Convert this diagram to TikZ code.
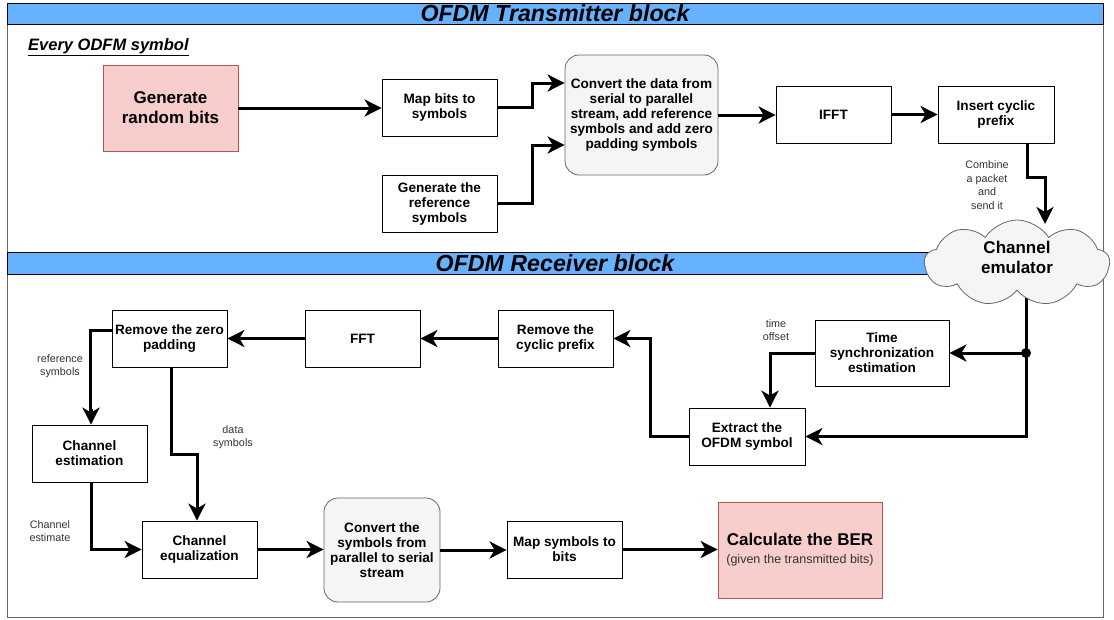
\documentclass[tikz,border=0pt]{standalone}
\usepackage{fontspec}
\setmainfont{Liberation Sans}
\usetikzlibrary{arrows.meta,shapes.symbols,calc}
\definecolor{pinkf}{HTML}{F8CECC}
\definecolor{pinkd}{HTML}{B85450}
\definecolor{grayf}{HTML}{F5F5F5}
\definecolor{grayd}{HTML}{666666}
\definecolor{barblue}{HTML}{66B2FF}
\definecolor{labtext}{HTML}{333333}
\begin{document}
\begin{tikzpicture}[x=1pt,y=-1pt,
  box/.style={draw=black, fill=white, line width=0.8pt, align=center,
    font=\fontsize{13.6}{15}\selectfont\bfseries, inner sep=1pt,
    minimum width=115pt, minimum height=57pt},
  softbox/.style={box, draw=grayd, fill=grayf, rounded corners=14pt},
  pinkbox/.style={box, draw=pinkd, fill=pinkf},
  arr/.style={line width=3pt, -{Stealth[length=17pt,width=17pt,inset=5pt]}},
  plain/.style={line width=3pt},
  lab/.style={font=\fontsize{10.8}{13.5}\selectfont, text=labtext, align=center},
  bartitle/.style={font=\fontsize{23.2}{25}\selectfont\bfseries\itshape}]
\useasboundingbox (0,0) rectangle (1114,619);
% frame and bars
\draw[grayd, line width=0.8pt] (7,3) rectangle (1103,617);
\draw[black, line width=0.8pt, fill=barblue] (7,3) rectangle (1103,24);
\draw[black, line width=0.8pt, fill=barblue] (7,252) rectangle (1103,274);
\node[bartitle] (t1) at (555,13.5) {OFDM Transmitter block};
\node[bartitle] (t2) at (555,263) {OFDM Receiver block};
\node[anchor=west, font=\fontsize{16.5}{18}\selectfont\bfseries\itshape, inner sep=0] (every) at (28,47) {\underline{Every ODFM symbol}};
% transmitter nodes
\node[pinkbox, minimum width=135pt, minimum height=86pt, font=\fontsize{17}{20}\selectfont\bfseries] (gen) at (170.5,108) {Generate\\random bits};
\node[box] (map) at (439.5,107.5) {Map bits to\\symbols};
\node[box] (genref) at (439.5,203.5) {Generate the\\reference\\symbols};
\node[softbox, minimum width=153pt, minimum height=120pt] (conv) at (641.5,115) {Convert the data from\\serial to parallel\\stream, add reference\\symbols and add zero\\padding symbols};
\node[box] (ifft) at (833.5,114.5) {IFFT};
\node[box, minimum width=116pt] (icp) at (996,114.5) {Insert cyclic\\prefix};
\node[lab] (comb) at (987,185) {Combine\\a packet\\and\\send it};
% receiver nodes
\node[box] (rzp) at (169.5,338.5) {Remove the zero\\padding};
\node[box] (fft) at (362.5,338.5) {FFT};
\node[box] (rcp) at (555.5,338.5) {Remove the\\cyclic prefix};
\node[box, minimum width=134pt, minimum height=66pt] (tsync) at (882,353) {Time\\synchronization\\estimation};
\node[box, minimum width=116pt] (ext) at (747,436.5) {Extract the\\OFDM symbol};
\node[box] (chest) at (89.5,453.5) {Channel\\estimation};
\node[box] (cheq) at (199.5,549.5) {Channel\\equalization};
\node[softbox, minimum width=116pt, minimum height=104pt] (conv2) at (382,550) {Convert the\\symbols from\\parallel to serial\\stream};
\node[box] (mapb) at (564.5,549.5) {Map symbols to\\bits};
\node[pinkbox, minimum width=164pt, minimum height=96pt, font=\fontsize{17}{20}\selectfont\bfseries] (ber) at (800,550) {Calculate the BER\\[-2pt]{\fontsize{12.5}{14}\selectfont\mdseries\color{labtext}(given the transmitted bits)}};
\node[circle, fill=black, inner sep=0, minimum size=10pt] (dot) at (1026,353) {};
\node[lab] (toff) at (776,330) {time\\offset};
\node[lab] (refs) at (60,366) {reference\\symbols};
\node[lab] (datas) at (233,437) {data\\symbols};
\node[lab] (chestl) at (50,531) {Channel\\estimate};
% connectors
\draw[plain] (dot.center) -- ++(0,-60);
\draw[arr] (gen.east) -- (gen.east -| map.west);
\draw[arr] (map.east) -- ++(35,0) |- ($(conv.west)+(0,-32)$);
\draw[arr] (genref.east) -- ++(35,0) |- ($(conv.west)+(0,30)$);
\draw[arr] (conv.east) -- (conv.east -| ifft.west);
\draw[arr] (ifft.east) -- (icp.west);
% cloud
\node[cloud, cloud puffs=9, cloud puff arc=115, cloud ignores aspect, draw=grayd, fill=grayf, line width=0.8pt,
  minimum width=185pt, minimum height=86pt, inner sep=0] (cloud) at (1017,263) {};
\node[align=center, font=\fontsize{17}{20}\selectfont\bfseries] (cloudtxt) at (1017,257) {Channel\\emulator};
\draw[arr] ($(icp.south)+(31,0)$) -- ++(0,34) -| ($(cloud.center)+(28,-39)$);
\draw[arr] (dot.center) -- (tsync.east);
\draw[arr] (dot.center) |- (ext.east);
\draw[arr] (tsync.west) -| ($(ext.north)+(23,0)$);
\draw[arr] (ext.west) -- ++(-38,0) |- (rcp.east);
\draw[arr] (rcp.west) -- (fft.east);
\draw[arr] (fft.west) -- (rzp.east);
\draw[arr] ($(rzp.west)+(0,-8)$) -- ++(-21,0) -- ++(0,80) -| ($(chest.north)+(1.5,0)$);
\draw[arr] ($(rzp.south)+(1.5,0)$) -- ++(0,87) -| ($(cheq.north)+(-2.5,0)$);
\draw[arr] ($(chest.south)+(1.5,0)$) |- (cheq.west);
\draw[arr] (cheq.east) -- (cheq.east -| conv2.west);
\draw[arr] (conv2.east) -- (conv2.east -| mapb.west);
\draw[arr] (mapb.east) -- (mapb.east -| ber.west);
\end{tikzpicture}
\end{document}
